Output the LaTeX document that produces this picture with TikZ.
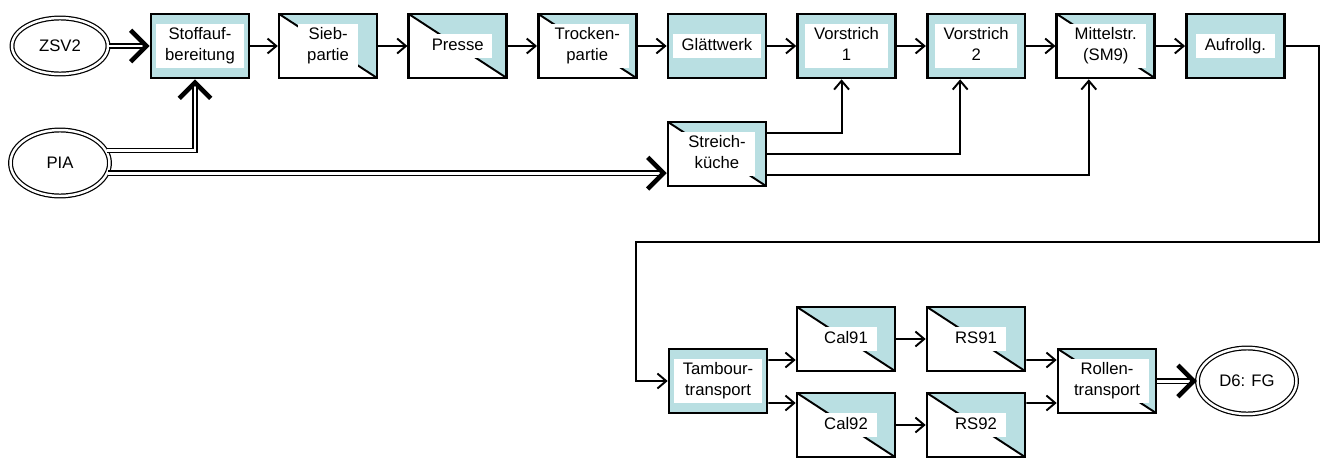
\documentclass[tikz,border=0pt]{standalone}
\usepackage{fontspec}
\setmainfont{Liberation Sans}
\usepackage{xcolor}
\usepackage{tikz}
\usetikzlibrary{shapes.geometric, arrows.meta, positioning}
\definecolor{boxblue}{HTML}{B9DFE2}
\setlength{\fboxsep}{1pt}
\newcommand{\lbl}[1]{\colorbox{white}{\begin{tabular}{@{\hspace{4pt}}c@{\hspace{4pt}}}#1\end{tabular}}}
\tikzstyle{func} = [rectangle, minimum width=1.96cm, minimum height=1.28cm, inner sep=0pt, draw=black, line width=1.5pt, fill=boxblue, font=\fontsize{9.5}{11.4}\selectfont]
\tikzstyle{halffunc} = [func, fill=white, path picture={
    \fill[boxblue] (path picture bounding box.north west) -- (path picture bounding box.north east) -- (path picture bounding box.south east) -- cycle;
    \draw[line width=1.1pt] (path picture bounding box.north west) -- (path picture bounding box.south east);}]
\tikzstyle{event} = [ellipse, minimum width=1.98cm, minimum height=1.32cm, inner sep=0pt, draw=black, double, double distance=1.4pt, line width=0.7pt, font=\fontsize{9.5}{11.4}\selectfont]
\tikzstyle{arrow} = [line width=1.1pt, -{Straight Barb[length=5pt, width=8.5pt]}]
\tikzstyle{dblarrow} = [double, double distance=1.7pt, line width=0.8pt, -{Straight Barb[length=9pt, width=18pt, line width=2.6pt]}]

\begin{document}
\begin{tikzpicture}[x=0.02cm, y=-0.02cm]
        \useasboundingbox (0,0) rectangle (1322,457);
        % Nodes
        \node (zsv) [event, minimum width=1.92cm, minimum height=1.12cm] at (60,46) {ZSV2};
        \node (pia) [event] at (60,163) {PIA};
        \node (stoff) [func] at (200,46) {\lbl{Stoffauf-\\bereitung}};
        \node (sieb) [halffunc, right=0.55cm of stoff] {\lbl{Sieb-\\partie}};
        \node (presse) [halffunc, right=0.58cm of sieb] {\lbl{Presse}};
        \node (trocken) [halffunc, right=0.58cm of presse] {\lbl{Trocken-\\partie}};
        \node (glatt) [func, right=0.58cm of trocken] {\lbl{Glättwerk}};
        \node (vor1) [func, right=0.58cm of glatt] {\lbl{Vorstrich\\1}};
        \node (vor2) [func, right=0.58cm of vor1] {\lbl{Vorstrich\\2}};
        \node (mittel) [halffunc, right=0.58cm of vor2] {\lbl{Mittelstr.\\(SM9)}};
        \node (aufr) [func, right=0.58cm of mittel] {\lbl{Aufrollg.}};
        \node (streich) [halffunc] at (717,154) {\lbl{Streich-\\küche}};
        \node (tamb) [func] at (718,381) {\lbl{Tambour-\\transport}};
        \node (cal91) [halffunc] at (846,339) {\lbl{Cal91}};
        \node (cal92) [halffunc] at (846,425) {\lbl{Cal92}};
        \node (rs91) [halffunc] at (976,339) {\lbl{RS91}};
        \node (rs92) [halffunc] at (976,425) {\lbl{RS92}};
        \node (rollen) [halffunc] at (1107,381) {\lbl{Rollen-\\transport}};
        \node (d6) [event] at (1247,381) {D6: FG};
        \coordinate (turn) at (636,242);

        % Arrows
        \draw [dblarrow] (zsv) -- (stoff);
        \draw [dblarrow] (pia.15) -| ([xshift=-0.1cm]stoff.south);
        \draw [dblarrow] (pia.-12) -- (pia.-12 -| streich.west);
        \draw [arrow] (stoff) -- (sieb);
        \draw [arrow] (sieb) -- (presse);
        \draw [arrow] (presse) -- (trocken);
        \draw [arrow] (trocken) -- (glatt);
        \draw [arrow] (glatt) -- (vor1);
        \draw [arrow] (vor1) -- (vor2);
        \draw [arrow] (vor2) -- (mittel);
        \draw [arrow] (mittel) -- (aufr);
        \draw [arrow] ([yshift=0.42cm]streich.east) -| ([xshift=-0.1cm]vor1.south);
        \draw [arrow] (streich.east) -| ([xshift=-0.32cm]vor2.south);
        \draw [arrow] ([yshift=-0.42cm]streich.east) -| ([xshift=-0.34cm]mittel.south);

        % long way down to the finishing line
        \draw [arrow] (aufr.east) -- ++(33,0) |- (turn) |- (tamb.west);
        \draw [arrow] ([yshift=0.42cm]tamb.east) -- ([yshift=-0.42cm]cal91.west);
        \draw [arrow] ([yshift=-0.44cm]tamb.east) -- ([yshift=0.44cm]cal92.west);
        \draw [arrow] (cal91) -- (rs91);
        \draw [arrow] (cal92) -- (rs92);
        \draw [arrow] ([yshift=-0.42cm]rs91.east) -- ([yshift=0.42cm]rollen.west);
        \draw [arrow] ([yshift=0.44cm]rs92.east) -- ([yshift=-0.44cm]rollen.west);
        \draw [dblarrow] (rollen) -- (d6);
    \end{tikzpicture}
\end{document}
